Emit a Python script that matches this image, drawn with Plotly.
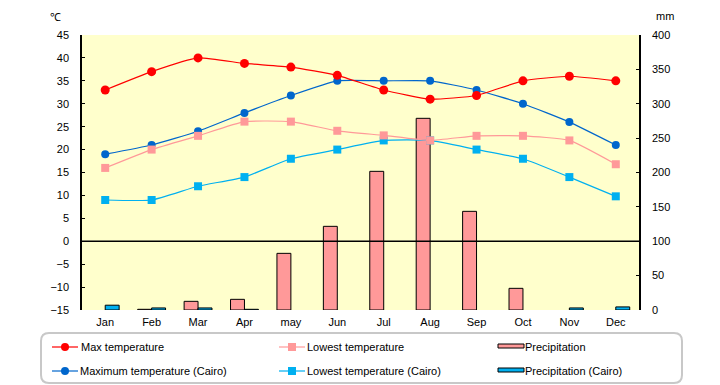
import plotly.graph_objects as go

months = ["Jan", "Feb", "Mar", "Apr", "may", "Jun", "Jul", "Aug", "Sep", "Oct", "Nov", "Dec"]
max_temp = [33, 37, 40, 38.8, 38, 36.2, 33, 31, 31.8, 35, 36, 35]
low_temp = [16, 20, 23, 26.1, 26.1, 24.1, 23.1, 22, 23, 23, 22, 16.8]
precip = [0, 1, 12.6, 15.5, 82.4, 121.7, 201.7, 278.8, 143.5, 31.5, 0, 0]
cairo_max = [19, 21, 24, 28, 31.8, 35, 35, 35, 33, 30, 26, 21]
cairo_low = [9, 9, 12, 14, 18, 20, 22, 22, 20, 18, 14, 9.8]
cairo_precip = [7, 3, 3, 1, 0, 0, 0, 0, 0, 0, 3, 4.5]

legend_names = ["Max temperature", "Lowest temperature", "Precipitation",
                "Maximum temperature (Cairo)", "Lowest temperature (Cairo)", "Precipitation (Cairo)"]

RED = "#FF0000"
PINK = "#FF9999"
BLUE = "#0066CC"
CYAN = "#00B0F0"
FONT = "Liberation Sans"

OFF = 8  # page body margin
W, H = 720 - OFF, 385 - OFF
L, R, T, B = 82, 639, 35, 310

def px(x):
    return (x - L) / (R - L)

def py(y):
    return (B - y) / (B - T)

def bar(vals, name, color):
    widths = [1 if v > 0 else 0 for v in vals]
    return go.Bar(x=months, y=vals, name=name, yaxis="y",
                  marker=dict(color=color, line=dict(color="black", width=widths)))

fig = go.Figure()
fig.add_trace(bar(precip, legend_names[2], PINK))
fig.add_trace(bar(cairo_precip, legend_names[5], CYAN))

def line(vals, name, color, symbol, size):
    return go.Scatter(x=months, y=vals, name=name, mode="lines+markers", yaxis="y2",
                      line=dict(color=color, width=1.2, shape="spline", smoothing=0.45),
                      marker=dict(color=color, symbol=symbol, size=size))

fig.add_trace(line(cairo_low, legend_names[4], CYAN, "square", 8))
fig.add_trace(line(cairo_max, legend_names[3], BLUE, "circle", 8))
fig.add_trace(line(low_temp, legend_names[1], PINK, "square", 8))
fig.add_trace(line(max_temp, legend_names[0], RED, "circle", 9))

shapes = []
shapes.append(dict(type="line", xref="paper", x0=0, x1=1, yref="y2", y0=0, y1=0,
                   line=dict(color="black", width=1.5), layer="above"))
bx0, bx1, by0, by1, r = 41, 682, 333, 383, 8
path = (f"M {px(bx0+r)},{py(by0)} L {px(bx1-r)},{py(by0)} "
        f"Q {px(bx1)},{py(by0)} {px(bx1)},{py(by0+r)} "
        f"L {px(bx1)},{py(by1-r)} Q {px(bx1)},{py(by1)} {px(bx1-r)},{py(by1)} "
        f"L {px(bx0+r)},{py(by1)} Q {px(bx0)},{py(by1)} {px(bx0)},{py(by1-r)} "
        f"L {px(bx0)},{py(by0+r)} Q {px(bx0)},{py(by0)} {px(bx0+r)},{py(by0)} Z")
shapes.append(dict(type="path", xref="paper", yref="paper", path=path,
                   line=dict(color="#C8C8C8", width=2), fillcolor="rgba(0,0,0,0)", layer="above"))

annotations = []

def leg_text(x, y, text):
    annotations.append(dict(xref="paper", yref="paper", x=px(x), y=py(y), text=text, showarrow=False,
                            xanchor="left", yanchor="middle", font=dict(family=FONT, size=11, color="black")))

def leg_line(x0, x1, y, color, marker):
    shapes.append(dict(type="line", xref="paper", yref="paper", x0=px(x0), x1=px(x1), y0=py(y), y1=py(y),
                       line=dict(color=color, width=1.2)))
    cx = (x0 + x1) / 2
    kind = "circle" if marker == "circle" else "rect"
    shapes.append(dict(type=kind, xref="paper", yref="paper", x0=px(cx-4), x1=px(cx+4), y0=py(y+4), y1=py(y-4),
                       fillcolor=color, line=dict(color=color, width=0)))

def leg_rect(x0, x1, y0, y1, color):
    shapes.append(dict(type="rect", xref="paper", yref="paper", x0=px(x0), x1=px(x1), y0=py(y1), y1=py(y0),
                       fillcolor=color, line=dict(color="black", width=1)))

row1, row2 = 347, 371
leg_line(52, 78, row1, RED, "circle"); leg_text(79, row1, legend_names[0])
leg_line(279, 305, row1, PINK, "square"); leg_text(305, row1, legend_names[1])
leg_rect(498, 524, row1 - 3, row1 + 1, PINK); leg_text(523, row1, legend_names[2])
leg_line(52, 78, row2, BLUE, "circle"); leg_text(78, row2, legend_names[3])
leg_line(279, 305, row2, CYAN, "square"); leg_text(305, row2, legend_names[4])
leg_rect(498, 524, row2 - 3, row2 + 1, CYAN); leg_text(523, row2, legend_names[5])

annotations.append(dict(xref="paper", yref="paper", x=px(55), y=py(17), text="℃", showarrow=False,
                        xanchor="center", yanchor="middle", font=dict(family=FONT, size=11, color="black")))
annotations.append(dict(xref="paper", yref="paper", x=px(665), y=py(16), text="mm", showarrow=False,
                        xanchor="center", yanchor="middle", font=dict(family=FONT, size=11, color="black")))

fig.update_layout(
    width=W, height=H,
    margin=dict(l=L - OFF, r=W - (R - OFF), t=T - OFF, b=H - (B - OFF), pad=0),
    paper_bgcolor="white", plot_bgcolor="#FFFFCC",
    barmode="group", bargap=0.4, bargroupgap=0,
    showlegend=False,
    font=dict(family=FONT, size=11, color="black"),
    xaxis=dict(range=[-0.5, 11.5], showgrid=False, showline=False, ticks="", tickfont=dict(size=11),
               ticklabelstandoff=4),
    yaxis=dict(side="right", range=[0, 400], dtick=50, showgrid=False, zeroline=False,
               showline=True, linecolor="black", linewidth=1.5, ticks="inside", ticklen=3, tickcolor="black",
               tickfont=dict(size=11), ticklabelstandoff=9),
    yaxis2=dict(side="left", overlaying="y", range=[-15, 45], dtick=5, showgrid=False, zeroline=False,
                showline=True, linecolor="black", linewidth=1.5, ticks="inside", ticklen=3, tickcolor="black",
                tickfont=dict(size=11), ticklabelstandoff=9),
    shapes=shapes, annotations=annotations,
)

fig.write_html("out.html")
